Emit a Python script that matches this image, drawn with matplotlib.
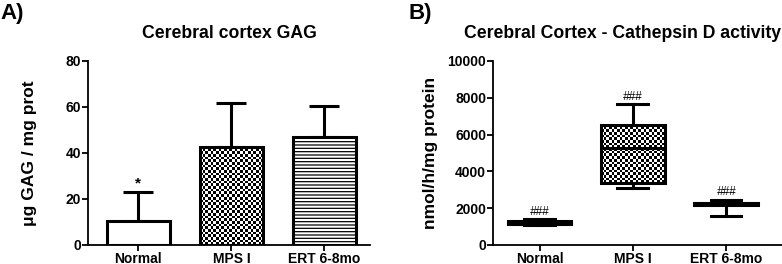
#!/usr/bin/env python3
import numpy as np
import matplotlib
matplotlib.use("Agg")
import matplotlib.pyplot as plt

plt.rcParams['font.family'] = ['Liberation Sans', 'DejaVu Sans']
plt.rcParams['font.weight'] = 'bold'
plt.rcParams['hatch.linewidth'] = 0.9

# Datos panel A (GAG)
groups = ["Normal", "MPS I", "ERT 6-8mo"]
gag_mean = [10.4, 42.7, 46.8]
gag_sd = [12.8, 19.2, 13.6]
gag_marks = ["*", "", ""]

# Datos panel B (catepsina D) - cajas
cat_q1 = [1150, 3350, 2150]
cat_med = [1200, 5250, 2250]
cat_q3 = [1280, 6520, 2300]
cat_lo = [1100, 3110, 1580]
cat_hi = [1400, 7660, 2450]
cat_marks = ["###", "###", "###"]


def checker(ax, patch, fig, cell=2.65):
    # Relleno de tablero de ajedrez recortado al patch
    fig.canvas.draw()
    bb = patch.get_window_extent(fig.canvas.get_renderer())
    ncol = max(1, int(round(bb.width / cell)))
    nrow = max(1, int(round(bb.height / cell)))
    board = (np.indices((nrow, ncol)).sum(axis=0) % 2).astype(float)
    ext = patch.get_extents().transformed(ax.transData.inverted())
    im = ax.imshow(board, cmap='gray', interpolation='nearest', aspect='auto',
                   extent=[ext.x0, ext.x1, ext.y0, ext.y1], zorder=2)
    im.set_clip_path(patch)


def style(ax):
    for s in ['top', 'right']:
        ax.spines[s].set_visible(False)
    for s in ['left', 'bottom']:
        ax.spines[s].set_linewidth(1.3)
    ax.tick_params(direction='out', length=4, width=1.3, labelsize=10, pad=1)
    for lab in ax.get_xticklabels() + ax.get_yticklabels():
        lab.set_fontweight('bold')


fig = plt.figure(figsize=(7.82, 2.64), dpi=100)

# Panel A
axA = fig.add_axes([88 / 782, 1 - 245 / 264, (370 - 88) / 782, (245 - 61) / 264])
x = np.arange(len(groups))
bars = axA.bar(x, gag_mean, width=0.68, facecolor='none', edgecolor='black',
               linewidth=2.2, zorder=3)
bars[0].set_facecolor('white')
bars[2].set_facecolor('white')
bars[2].set_hatch('-----')
axA.errorbar(x, gag_mean, yerr=[np.zeros(len(x)), gag_sd], fmt='none',
             ecolor='black', elinewidth=2.2, capsize=11, capthick=2.2, zorder=2)
for i, m in enumerate(gag_marks):
    if m:
        axA.text(x[i], gag_mean[i] + gag_sd[i] + 0.5, m, ha='center', va='bottom',
                 fontsize=11, fontweight='bold')
axA.set_xlim(-0.54, 2.49)
axA.set_ylim(0, 80)
axA.set_yticks([0, 20, 40, 60, 80])
axA.set_xticks(x)
axA.set_xticklabels(groups)
axA.set_ylabel("μg GAG / mg prot", fontsize=12.5, fontweight='bold')
axA.yaxis.set_label_coords(37 / 782, 1 - 153 / 264, transform=fig.transFigure)
style(axA)
fig.text(229 / 782, 1 - 33 / 264, "Cerebral cortex GAG", ha='center', va='center',
         fontsize=12.7, fontweight='bold')
fig.text(0.0, 1 - 13 / 264, "A)", ha='left', va='center', fontsize=16, fontweight='bold')

# Panel B
axB = fig.add_axes([493 / 782, 1 - 245 / 264, (782 - 493) / 782, (245 - 61) / 264])
stats = []
for i in range(len(groups)):
    stats.append(dict(med=cat_med[i], q1=cat_q1[i], q3=cat_q3[i],
                      whislo=cat_lo[i], whishi=cat_hi[i], fliers=[], label=groups[i]))
bp = axB.bxp(stats, positions=x, widths=0.68, patch_artist=True, showfliers=False,
             boxprops=dict(linewidth=2.2, edgecolor='black', facecolor='none'),
             medianprops=dict(linewidth=2.2, color='black'),
             whiskerprops=dict(linewidth=2.2, color='black'),
             capprops=dict(linewidth=2.2, color='black'),
             capwidths=0.33)
for b in bp['boxes']:
    b.set_zorder(3)
bp['boxes'][0].set_facecolor('black')
bp['boxes'][2].set_facecolor('black')
for i, m in enumerate(cat_marks):
    axB.text(x[i], cat_hi[i] + 80, m, ha='center', va='bottom',
             fontsize=8.5, fontweight='normal', fontstyle='italic')
axB.set_xlim(-0.5, 2.6)
axB.set_ylim(0, 10000)
axB.set_yticks([0, 2000, 4000, 6000, 8000, 10000])
axB.set_xticks(x)
axB.set_xticklabels(groups)
axB.set_ylabel("nmol/h/mg protein", fontsize=12.5, fontweight='bold')
axB.yaxis.set_label_coords(438 / 782, 1 - 153 / 264, transform=fig.transFigure)
style(axB)
fig.text(623 / 782, 1 - 33 / 264, "Cerebral Cortex - Cathepsin D activity", ha='center',
         va='center', fontsize=12.7, fontweight='bold')
fig.text(408 / 782, 1 - 14 / 264, "B)", ha='left', va='center', fontsize=16, fontweight='bold')

checker(axA, bars[1], fig)
checker(axB, bp['boxes'][1], fig)

fig.savefig('out.png', dpi=100)
